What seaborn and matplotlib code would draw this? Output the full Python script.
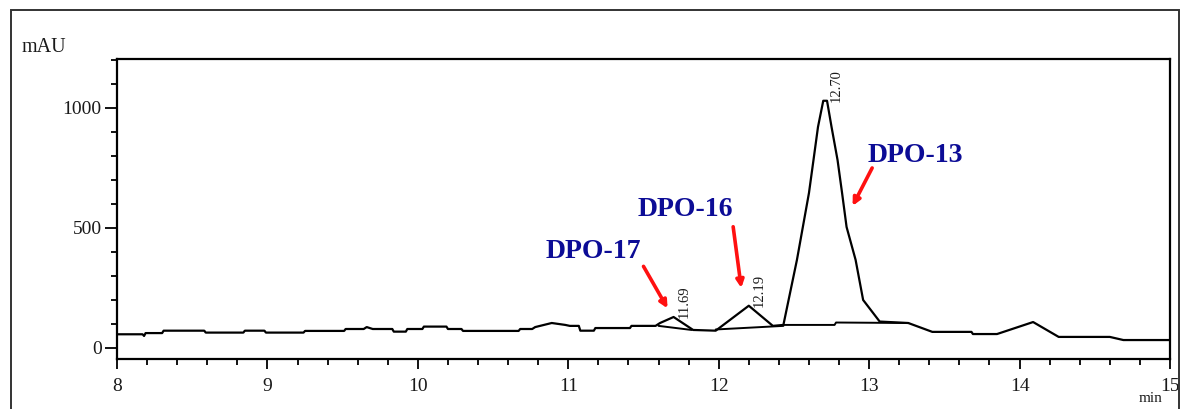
import numpy as np
import pandas as pd
import matplotlib
matplotlib.use("Agg")
import matplotlib.pyplot as plt
from matplotlib.patches import Rectangle
from matplotlib.ticker import MultipleLocator
import seaborn as sns

# ---- data ----
time_min = [8.00, 8.17, 8.18, 8.19, 8.30, 8.31, 8.58, 8.59, 8.84, 8.85, 8.98, 8.99,
            9.24, 9.25, 9.51, 9.52, 9.64, 9.66, 9.70, 9.83, 9.84, 9.92, 9.93, 10.03,
            10.04, 10.19, 10.20, 10.29, 10.30, 10.67, 10.68, 10.76, 10.78, 10.89, 10.98,
            11.01, 11.07, 11.08, 11.17, 11.18, 11.41, 11.42, 11.58, 11.61, 11.70, 11.83,
            11.98, 12.20, 12.36, 12.43, 12.52, 12.60, 12.63, 12.66, 12.695, 12.72, 12.75,
            12.79, 12.82, 12.85, 12.91, 12.96, 13.07, 13.26, 13.42, 13.68, 13.69, 13.85,
            14.09, 14.26, 14.60, 14.69, 15.00]
signal_mau = [57, 57, 50, 62, 62, 72, 72, 64, 64, 72, 72, 64,
              64, 71, 71, 79, 79, 87, 79, 79, 68, 68, 79, 79,
              89, 89, 79, 79, 71, 71, 79, 79, 87, 104, 96,
              92, 92, 72, 72, 83, 83, 92, 92, 104, 129, 75,
              72, 176, 92, 96, 367, 646, 783, 921, 1030, 1030, 921,
              783, 646, 504, 367, 200, 110, 104, 67, 67, 58, 58,
              108, 46, 46, 33, 33]

# integration baselines under peaks
base1_t = [11.60, 11.82]
base1_v = [92, 75]
base2_t = [11.98, 12.43]
base2_v = [77, 92]
base3_t = [12.43, 12.77, 12.78, 13.26]
base3_v = [96, 96, 106, 104]

peak_times = [11.69, 12.19, 12.70]
peak_heights = [129, 176, 1030]
peak_labels = ["11.69", "12.19", "12.70"]

compounds = ["DPO-17", "DPO-16", "DPO-13"]

x_ticks = [8, 9, 10, 11, 12, 13, 14, 15]
y_ticks = [0, 500, 1000]

# ---- figure ----
sns.set_style("white")
plt.rcParams["font.family"] = ["Liberation Serif", "DejaVu Serif"]

W, H = 1181, 409
fig = plt.figure(figsize=(W / 100, H / 100), dpi=100)
ax = fig.add_axes([117 / W, 1 - 359 / H, (1170 - 117) / W, (359 - 59) / H])

df = pd.DataFrame({"t": time_min, "v": signal_mau})
sns.lineplot(data=df, x="t", y="v", ax=ax, color="black", lw=1.6,
             sort=False, estimator=None)
for bt, bv in [(base1_t, base1_v), (base2_t, base2_v), (base3_t, base3_v)]:
    sns.lineplot(x=bt, y=bv, ax=ax, color="black", lw=1.4, sort=False, estimator=None)

ax.set_xlim(8, 15)
ax.set_ylim(-46, 1204)
ax.set_xticks(x_ticks)
ax.set_yticks(y_ticks)
ax.xaxis.set_minor_locator(MultipleLocator(0.2))
ax.yaxis.set_minor_locator(MultipleLocator(100))
ax.tick_params(axis="both", which="major", direction="out", color="black",
               width=1.3, labelsize=14, labelcolor="#1a1a1a")
ax.tick_params(axis="x", which="major", length=7, pad=7)
ax.tick_params(axis="y", which="major", length=9, pad=2)
ax.tick_params(axis="both", which="minor", direction="out", length=4, width=1.3,
               color="black")
ax.tick_params(bottom=True, left=True, which="both")
ax.set_xlabel("")
ax.set_ylabel("")
for s in ax.spines.values():
    s.set_color("black")
    s.set_linewidth(1.6)

# peak retention-time labels
for pt, ph, lab in zip(peak_times, peak_heights, peak_labels):
    ax.text(pt + 0.035, ph - 5, lab, rotation=90, ha="left", va="bottom",
            fontsize=10.5, color="#1a1a1a", fontstretch="condensed")

# compound annotations with red arrows
ann = [((11.165, 400), (11.50, 340), (11.66, 165)),
       ((11.777, 579), (12.096, 505), (12.15, 250)),
       ((13.306, 804), (13.02, 750), (12.89, 592))]
for name, (txy, tail, head) in zip(compounds, ann):
    ax.text(txy[0], txy[1], name, ha="center", va="center", fontsize=20,
            fontweight="bold", color="#0c0c96")
    ax.annotate("", xy=head, xytext=tail,
                arrowprops=dict(arrowstyle="-|>", color="#ff1010", lw=2.6,
                                mutation_scale=11, shrinkA=0, shrinkB=0))

# axis unit labels
fig.text(22 / W, 1 - 48 / H, "mAU", ha="left", va="center", fontsize=14.5,
         color="#1a1a1a")
fig.text(1151 / W, 1 - 392 / H, "min", ha="center", va="top", fontsize=11,
         color="#1a1a1a")

# outer frame
fig.add_artist(Rectangle((11 / W, -0.2), (1179 - 11) / W, 1.2 - 10 / H,
                         transform=fig.transFigure, fill=False,
                         edgecolor="#333333", lw=1.4))

fig.savefig("out.png", dpi=100)
